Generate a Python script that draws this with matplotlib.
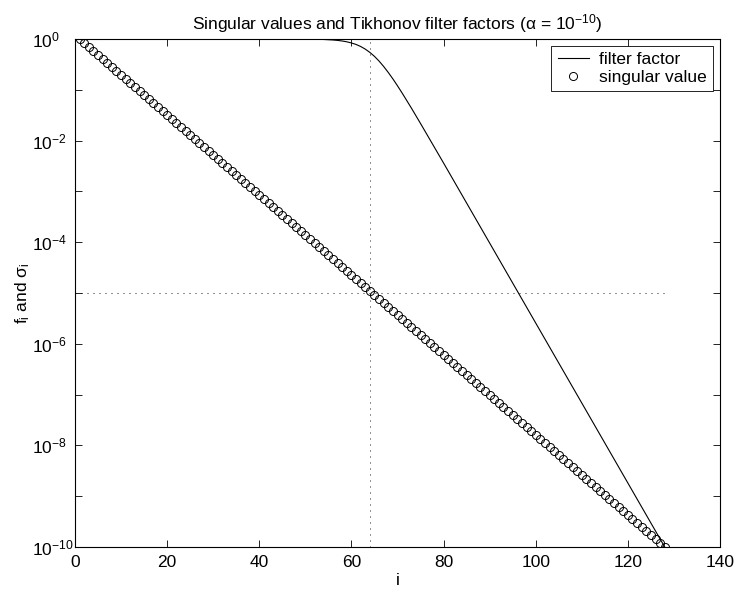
import numpy as np
import matplotlib
matplotlib.use("Agg")
import matplotlib.pyplot as plt
from matplotlib.ticker import FixedLocator, FuncFormatter, NullLocator

plt.rcParams['font.family'] = ['Liberation Sans', 'DejaVu Sans']
plt.rcParams['mathtext.fontset'] = 'custom'
plt.rcParams['mathtext.rm'] = 'Liberation Sans'
plt.rcParams['mathtext.it'] = 'Liberation Sans:italic'
plt.rcParams['mathtext.default'] = 'regular'

# Tikhonov regularization parameter
alpha = 1e-10

# log10 of the singular values sigma_i, i = 1..128
sigma_log10 = [
    0.000, -0.079, -0.157, -0.236, -0.315, -0.394, -0.472, -0.551,
    -0.630, -0.709, -0.787, -0.866, -0.945, -1.024, -1.102, -1.181,
    -1.260, -1.339, -1.417, -1.496, -1.575, -1.654, -1.732, -1.811,
    -1.890, -1.969, -2.047, -2.126, -2.205, -2.283, -2.362, -2.441,
    -2.520, -2.598, -2.677, -2.756, -2.835, -2.913, -2.992, -3.071,
    -3.150, -3.228, -3.307, -3.386, -3.465, -3.543, -3.622, -3.701,
    -3.780, -3.858, -3.937, -4.016, -4.094, -4.173, -4.252, -4.331,
    -4.409, -4.488, -4.567, -4.646, -4.724, -4.803, -4.882, -4.961,
    -5.039, -5.118, -5.197, -5.276, -5.354, -5.433, -5.512, -5.591,
    -5.669, -5.748, -5.827, -5.906, -5.984, -6.063, -6.142, -6.220,
    -6.299, -6.378, -6.457, -6.535, -6.614, -6.693, -6.772, -6.850,
    -6.929, -7.008, -7.087, -7.165, -7.244, -7.323, -7.402, -7.480,
    -7.559, -7.638, -7.717, -7.795, -7.874, -7.953, -8.031, -8.110,
    -8.189, -8.268, -8.346, -8.425, -8.504, -8.583, -8.661, -8.740,
    -8.819, -8.898, -8.976, -9.055, -9.134, -9.213, -9.291, -9.370,
    -9.449, -9.528, -9.606, -9.685, -9.764, -9.843, -9.921, -10.000,
]

idx = np.arange(1, len(sigma_log10) + 1)
sigma = 10.0 ** np.array(sigma_log10)
# Tikhonov filter factors f_i = sigma_i^2 / (sigma_i^2 + alpha)
filt = sigma**2 / (sigma**2 + alpha)

# reference guides: index k = 64 and level sqrt(alpha)
k_guide = 64
level_guide = np.sqrt(alpha)

x_ticks = [0, 20, 40, 60, 80, 100, 120, 140]
y_exponents = list(range(-10, 1))

FS = 12.5
fig = plt.figure(figsize=(7.35, 5.89), dpi=100)
ax = fig.add_axes([75 / 735, 1 - 547 / 589, 645 / 735, 508 / 589])

ax.semilogy(idx, filt, '-', color='black', lw=0.8, label='filter factor')
ax.semilogy(idx, sigma, 'o', mfc='none', mec='black', ms=5.8, mew=0.7,
            label='singular value')
dots = (0, (1.2, 6))
ax.plot([k_guide, k_guide], [1e-10, 1], color='black', lw=0.6, ls=dots)
ax.plot([0, len(sigma_log10)], [level_guide, level_guide], color='black',
        lw=0.6, ls=dots)

ax.set_xlim(0, 140)
ax.set_ylim(1e-10, 1)
ax.xaxis.set_major_locator(FixedLocator(x_ticks))
ax.yaxis.set_major_locator(FixedLocator([10.0**e for e in y_exponents]))
ax.yaxis.set_minor_locator(NullLocator())


def decade_label(v, pos):
    e = int(round(np.log10(v)))
    return r'$10^{%d}$' % e if e % 2 == 0 else ''


ax.yaxis.set_major_formatter(FuncFormatter(decade_label))
ax.tick_params(which='both', direction='in', top=True, right=True,
               length=5, width=0.6, labelsize=FS)
ax.tick_params(axis='x', pad=6)
ax.tick_params(axis='y', pad=31)
for lab in ax.get_yticklabels():
    lab.set_horizontalalignment('left')
for s in ax.spines.values():
    s.set_linewidth(0.8)

ax.set_xlabel('i', fontsize=FS, labelpad=2)
ax.set_ylabel('f$_\\mathrm{i}$ and σ$_\\mathrm{i}$', fontsize=FS, labelpad=0)
ax.set_title('Singular values and Tikhonov filter factors (α = 10$^{-10}$)',
             fontsize=FS, pad=7)

leg = ax.legend(loc='upper right', fontsize=FS, frameon=True, fancybox=False,
                edgecolor='black', framealpha=1, borderaxespad=0.4,
                handlelength=1.8, handletextpad=0.6, labelspacing=0.15,
                borderpad=0.35)
leg.get_frame().set_linewidth(0.6)

fig.savefig('out.png', dpi=100)
